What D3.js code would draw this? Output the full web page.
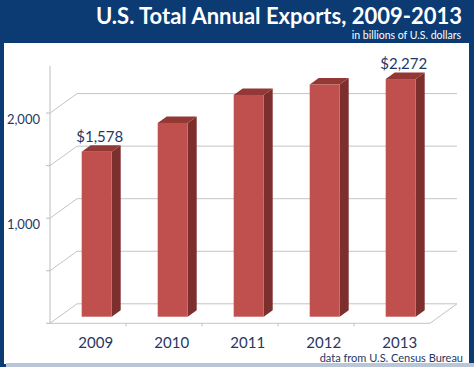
<!DOCTYPE html>
<html>
<head>
<meta charset="utf-8">
<script src="https://cdn.jsdelivr.net/npm/d3@7"></script>
<style>
  body { margin: 0; }
  svg { display: block; font-family: Lato, "Open Sans", sans-serif; }
</style>
</head>
<body>
<div class="chart"></div>
<script>
var years = ["2009", "2010", "2011", "2012", "2013"];
var exportsBn = [1578, 1853, 2120, 2220, 2272];
var labeledYears = ["2009", "2013"];
var gridValues = [0, 500, 1000, 1500, 2000];
var tickLabels = [1000, 2000];

var width = 474;
var height = 367;

// 3d offsets (wall depth and bar depth)
var wallDx = 27, wallDy = -19.5;
var barDx = 9, barDy = -6.5;

var svg = d3.select(".chart")
  .append("svg")
  .attr("width", width)
  .attr("height", height);

// frame + header
svg.append("rect").attr("width", width).attr("height", height).attr("fill", "#0c3a72");
svg.append("rect").attr("x", 4).attr("y", 43).attr("width", 465).attr("height", 321).attr("fill", "#fff");
svg.append("rect").attr("x", 6).attr("y", 363).attr("width", 468).attr("height", 4).attr("fill", "#b9c6d8");

svg.append("text")
  .attr("x", 462).attr("y", 24)
  .attr("text-anchor", "end")
  .attr("fill", "#fff")
  .style("font-size", "22px")
  .style("font-weight", "bold")
  .text("U.S. Total Annual Exports, 2009-2013");

svg.append("text")
  .attr("x", 461).attr("y", 38.5)
  .attr("text-anchor", "end")
  .attr("fill", "#fff")
  .style("font-size", "10.5px")
  .text("in billions of U.S. dollars");

var x = d3.scaleBand()
  .domain(years)
  .range([50, 430]);

var y = d3.scaleLinear()
  .domain([0, 2450])
  .range([323.3, 323.3 - 2450 * 0.1051]);

var grid = svg.append("g").attr("stroke", "#c4c4c4").attr("stroke-width", 1).attr("fill", "none");

// back wall gridlines + diagonals on the side wall
gridValues.forEach(function(v) {
  grid.append("path")
    .attr("d", "M50," + y(v) + "L" + (50 + wallDx) + "," + (y(v) + wallDy) + "H457");
});

// floor
grid.append("path")
  .attr("d", "M50," + y(0) + "H430L457," + (y(0) + wallDy));

// y axis line
svg.append("line")
  .attr("x1", 50).attr("x2", 50)
  .attr("y1", y(0)).attr("y2", y(2450))
  .attr("stroke", "#bcbcbc");

// small ticks
gridValues.forEach(function(v) {
  svg.append("line")
    .attr("x1", 46).attr("x2", 50)
    .attr("y1", y(v)).attr("y2", y(v))
    .attr("stroke", "#bcbcbc");
});
years.slice(1).forEach(function(d) {
  svg.append("line")
    .attr("x1", x(d)).attr("x2", x(d))
    .attr("y1", y(0)).attr("y2", y(0) + 3)
    .attr("stroke", "#bcbcbc");
});

svg.selectAll(".ylab")
  .data(tickLabels)
  .enter().append("text")
  .attr("class", "ylab")
  .attr("x", 40)
  .attr("y", function(d) { return y(d) + 11; })
  .attr("text-anchor", "end")
  .attr("fill", "#1f3864")
  .style("font-size", "13px")
  .text(function(d) { return d3.format(",")(d); });

// bars
var barW = 30;
var barOff = 31.7;
var base = y(0) - 6.6;
var k = 0.1046;

var bars = svg.selectAll(".bar")
  .data(years)
  .enter().append("g")
  .attr("class", "bar");

bars.each(function(d, i) {
  var g = d3.select(this);
  var x0 = x(d) + barOff;
  var x1 = x0 + barW;
  var top = base - exportsBn[i] * k;
  g.append("path")
    .attr("d", "M" + x1 + "," + top + "L" + (x1 + barDx) + "," + (top + barDy) +
      "L" + (x1 + barDx) + "," + (base + barDy) + "L" + x1 + "," + base + "Z")
    .attr("fill", "#7c2f2d");
  g.append("path")
    .attr("d", "M" + x0 + "," + top + "L" + (x0 + barDx) + "," + (top + barDy) +
      "L" + (x1 + barDx) + "," + (top + barDy) + "L" + x1 + "," + top + "Z")
    .attr("fill", "#933835");
  g.append("rect")
    .attr("x", x0).attr("y", top)
    .attr("width", barW).attr("height", base - top)
    .attr("fill", "#c0504d");
  if (labeledYears.indexOf(d) >= 0) {
    g.append("text")
      .attr("x", x0 + barW / 2 + 3)
      .attr("y", top - 10)
      .attr("text-anchor", "middle")
      .attr("fill", "#1f3864")
      .style("font-size", "15px")
      .text("$" + d3.format(",")(exportsBn[i]));
  }
});

svg.selectAll(".xlab")
  .data(years)
  .enter().append("text")
  .attr("class", "xlab")
  .attr("x", function(d) { return x(d) + barOff + barW / 2 - 1; })
  .attr("y", 348)
  .attr("text-anchor", "middle")
  .attr("fill", "#1f3864")
  .style("font-size", "15px")
  .text(function(d) { return d; });

svg.append("text")
  .attr("x", 463).attr("y", 362)
  .attr("text-anchor", "end")
  .attr("fill", "#1f3864")
  .style("font-size", "11px")
  .text("data from U.S. Census Bureau");
</script>
</body>
</html>
